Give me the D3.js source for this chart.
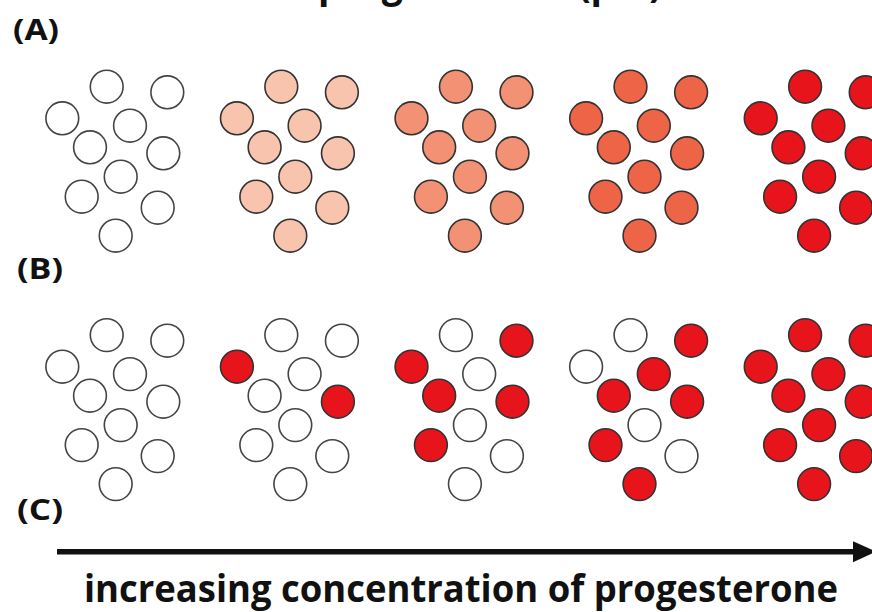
<!DOCTYPE html>
<html>
<head>
<meta charset="utf-8">
<script src="https://cdn.jsdelivr.net/npm/d3@7"></script>
<style>
html,body{margin:0;padding:0;background:#fff;overflow:hidden}
svg{display:block}
text{font-family:"Open Sans",sans-serif;font-weight:700;fill:#111}
</style>
</head>
<body>
<svg id="chart" width="872" height="612"></svg>
<script>
// ---- data ----
const stages = [0, 1, 2, 3, 4];
// (A) graded response: fraction of full progesterone response per stage
const gradedLevel = [0, 0.25, 0.5, 0.75, 1];
// (B) all-or-none response: indices of fully responding cells per stage
const activeCells = [
  [],
  [2, 5],
  [1, 2, 4, 5, 7],
  [1, 3, 4, 5, 7, 9],
  [0, 1, 2, 3, 4, 5, 6, 7, 8, 9]
];
// cell layout within a cluster (cluster units)
const cellU = [44.4, 105.0, 0.0, 67.7, 27.7, 101.0, 58.4, 19.4, 95.4, 53.4];
const cellV = [0.0, 5.6, 31.6, 39.0, 60.6, 66.6, 90.0, 110.0, 121.0, 149.0];
const rowLabels = ["(A)", "(B)", "(C)"];
const topTitle = "progesterone (pM)";
const axisLabel = "increasing concentration of progesterone";

// ---- scales ----
const svg = d3.select("#chart");
const clusterX = d3.scaleLinear().domain([0, 4]).range([62.3, 62.3 + 4 * 174.6]);
const rowY = d3.scaleLinear().domain([0, 1]).range([86.7, 86.7 + 248.4]);
const unit = d3.scaleLinear().domain([0, 1]).range([0, 1]);
const gradedColor = d3.scaleLinear()
  .domain([0, 0.25, 0.5, 0.75, 1])
  .range(["#ffffff", "#f8c4ad", "#f29173", "#ed6447", "#e7141c"]);
const R = 16.4;

// ---- row A: graded ----
const cellsA = [];
stages.forEach(s => cellU.forEach((u, i) => cellsA.push({s, i, level: gradedLevel[s]})));
svg.append("g").selectAll("circle").data(cellsA).join("circle")
  .attr("cx", d => clusterX(d.s) + unit(cellU[d.i]))
  .attr("cy", d => rowY(0) + unit(cellV[d.i]))
  .attr("r", R)
  .attr("fill", d => gradedColor(d.level))
  .attr("stroke", d => d.level === 0 ? "#444" : "#333")
  .attr("stroke-width", 1.6);

// ---- row B: all-or-none ----
const cellsB = [];
stages.forEach(s => cellU.forEach((u, i) => cellsB.push({s, i, on: activeCells[s].includes(i)})));
svg.append("g").selectAll("circle").data(cellsB).join("circle")
  .attr("cx", d => clusterX(d.s) + unit(cellU[d.i]))
  .attr("cy", d => rowY(1) + unit(cellV[d.i]))
  .attr("r", R)
  .attr("fill", d => d.on ? gradedColor(1) : "#ffffff")
  .attr("stroke", d => d.on ? "#333" : "#444")
  .attr("stroke-width", 1.6);

// ---- labels ----
const labelPos = [{x: 13, y: 40}, {x: 17, y: 279}, {x: 17, y: 520}];
svg.append("g").selectAll("text").data(rowLabels).join("text")
  .attr("x", (d, i) => labelPos[i].x)
  .attr("y", (d, i) => labelPos[i].y)
  .attr("font-size", 29)
  .attr("textLength", 46)
  .attr("lengthAdjust", "spacingAndGlyphs")
  .text(d => d);

// cropped title at top
svg.append("text")
  .attr("x", 318).attr("y", -3)
  .attr("font-size", 42)
  .attr("textLength", 344)
  .attr("lengthAdjust", "spacingAndGlyphs")
  .text(topTitle);

// ---- arrow ----
const arrowY = 551.7;
svg.append("line")
  .attr("x1", 57).attr("x2", 856)
  .attr("y1", arrowY).attr("y2", arrowY)
  .attr("stroke", "#111").attr("stroke-width", 5.5);
svg.append("path")
  .attr("d", `M853,${arrowY - 10.5} L876,${arrowY} L853,${arrowY + 10.5} Z`)
  .attr("fill", "#111");

svg.append("text")
  .attr("x", 84).attr("y", 602)
  .attr("font-size", 37)
  .attr("textLength", 754)
  .attr("lengthAdjust", "spacingAndGlyphs")
  .text(axisLabel);
</script>
</body>
</html>
